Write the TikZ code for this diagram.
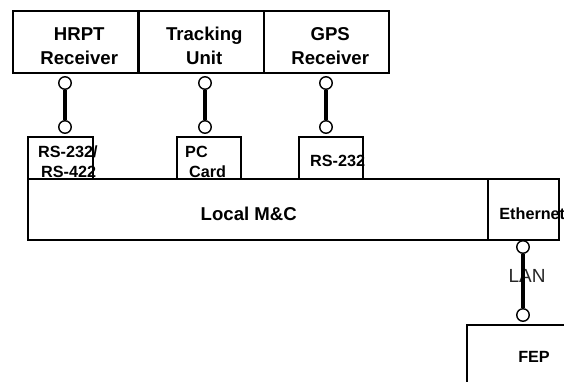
\documentclass[tikz,border=0pt]{standalone}
\usepackage{fontspec}
\setmainfont{Liberation Sans}
\usetikzlibrary{positioning}

\begin{document}
\begin{tikzpicture}[x=1pt, y=-1pt,
  box/.style={draw, line width=1.5pt, anchor=north west, inner sep=0pt},
  big/.style={font=\bfseries\fontsize{18.6}{24}\selectfont, align=center},
  small/.style={font=\bfseries\fontsize{16.2}{20}\selectfont, align=left, inner sep=0pt},
  port/.style={circle, draw, line width=1.4pt, minimum size=12.5pt, inner sep=0pt, fill=white},
  link/.style={line width=3.2pt}]
\useasboundingbox (0,0) rectangle (564,381);
% devices
\node[box, minimum width=125pt, minimum height=62pt] (hrpt) at (12,10) {};
\node[box, minimum width=125pt, minimum height=62pt] (track) at (138,10) {};
\node[box, minimum width=125pt, minimum height=62pt] (gps) at (263,10) {};
\node[big] (hrpttxt) at ([shift={(4,4)}]hrpt.center) {HRPT\\Receiver};
\node[big] (tracktxt) at ([shift={(3,4)}]track.center) {Tracking\\Unit};
\node[big] (gpstxt) at ([shift={(4,4)}]gps.center) {GPS\\Receiver};
% interfaces
\node[box, minimum width=65pt, minimum height=42pt] (serial) at (27,136) {};
\node[box, minimum width=64pt, minimum height=42pt] (pccard) at (176,136) {};
\node[box, minimum width=64pt, minimum height=42pt] (rs) at (298,136) {};
\node[small, anchor=north west] (serialtxt) at (38,146) {RS-232/\\\hspace*{3pt}RS-422};
\node[small, anchor=north west] (pccardtxt) at (185,146) {PC\\\hspace*{4pt}Card};
\node[small, anchor=west] (rstxt) at (310,161) {RS-232};
% local M&C
\node[box, minimum width=460pt, minimum height=61pt] (local) at (27,178) {};
\node[box, minimum width=71pt, minimum height=61pt] (eth) at (487,178) {};
\node[big] (localtxt) at ([shift={(-9,4.5)}]local.center) {Local M\&C};
\node[small] (ethtxt) at ([shift={(9,4.5)}]eth.center) {Ethernet};
% FEP
\node[box, minimum width=140pt, minimum height=80pt] (fep) at (466,324) {};
\node[small] (feptxt) at (534,357) {FEP};
% links
\node[port] (h1) at (65,83) {};
\node[port] (h2) at (65,127) {};
\node[port] (t1) at (205,83) {};
\node[port] (t2) at (205,127) {};
\node[port] (g1) at (326,83) {};
\node[port] (g2) at (326,127) {};
\node[port] (e1) at (523,247) {};
\node[port] (e2) at (523,315) {};
\node[font=\fontsize{19}{22}\selectfont, text=black!85] (lan) at (527,276) {LAN};
\draw[link] (h1) -- (h2);
\draw[link] (t1) -- (t2);
\draw[link] (g1) -- (g2);
\draw[link] (e1) -- (e2);
\end{tikzpicture}
\end{document}
